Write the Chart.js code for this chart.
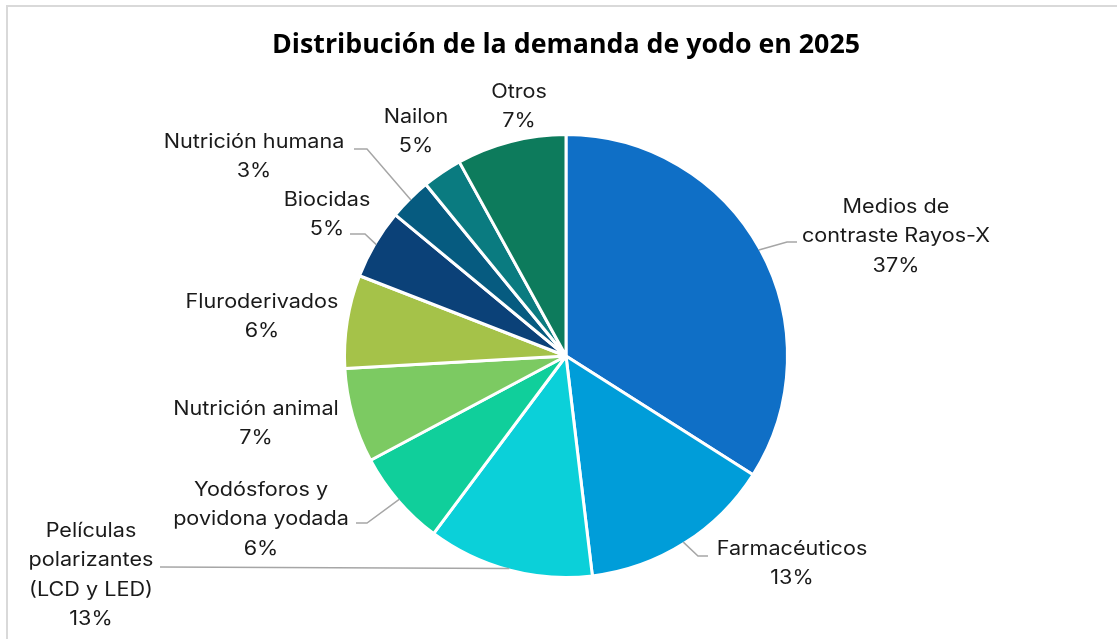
<!DOCTYPE html>
<html><head><meta charset="utf-8">
<script src="https://cdn.jsdelivr.net/npm/chart.js@4.4.1/dist/chart.umd.min.js"></script>
<style>
html,body{margin:0;padding:0;background:#fff;}
#wrap{position:relative;width:1117px;height:639px;overflow:hidden;background:#fff;}
#frame{position:absolute;left:6px;top:5px;width:1300px;height:800px;border:2px solid #d9d9d9;box-sizing:border-box;}
#c{position:absolute;left:0;top:0;}
</style></head><body>
<div id="wrap"><div id="frame"></div><canvas id="c" width="1117" height="639"></canvas></div>
<script>
// ---- data ----
const chartTitle = "Distribución de la demanda de yodo en 2025";
const categories = ["Medios de contraste Rayos-X", "Farmacéuticos", "Películas polarizantes (LCD y LED)", "Yodósforos y povidona yodada", "Nutrición animal", "Fluroderivados", "Biocidas", "Nutrición humana", "Nailon", "Otros"];
const values = [34.0, 14.1, 12.1, 7.0, 6.9, 6.8, 5.1, 3.1, 2.9, 8.0];
const pctLabels = ["37%", "13%", "13%", "6%", "7%", "6%", "5%", "3%", "5%", "7%"];
const labelLines = [["Medios de", "contraste Rayos-X"], ["Farmacéuticos"], ["Películas", "polarizantes", "(LCD y LED)"], ["Yodósforos y", "povidona yodada"], ["Nutrición animal"], ["Fluroderivados"], ["Biocidas"], ["Nutrición humana"], ["Nailon"], ["Otros"]];

// ---- styles / layout ----
const colors = ["#0F6FC6", "#009DD9", "#0BD0D9", "#10CF9B", "#7CCA62", "#A5C249", "#0B4178", "#065B80", "#0A7B80", "#0D7B5C"];
// label block: center x, first line y
const labelPos = [[896, 207], [792, 549], [91, 531], [261, 490], [256, 409], [262, 302], [327, 200], [254, 142], [416, 117], [519, 92]];
// leader lines: points from the text side, then to the slice edge (null = none)
const leaders = [[[797, 242], [787, 242]], [[708, 556], [698, 556]], [[160, 567]], [[356, 523], [367, 523]], null, null, [[350, 234], [365, 234]], [[354, 149], [367, 149]], null, null];

const labelPlugin = {
  id: 'labels',
  afterDraw(chart) {
    const ctx = chart.ctx;
    const meta = chart.getDatasetMeta(0);
    ctx.save();
    // title (bold, fitted to the reference width)
    const ts = 26;
    ctx.font = `bold ${ts}px "Open Sans"`;
    const sx = 588 / ctx.measureText(chartTitle).width;
    ctx.fillStyle = "#000";
    ctx.textAlign = "center";
    ctx.textBaseline = "middle";
    ctx.save();
    ctx.translate(566, 46);
    ctx.scale(sx, 1);
    ctx.fillText(chartTitle, 0, 0);
    ctx.restore();

    // leader lines
    ctx.strokeStyle = "#a6a6a6";
    ctx.lineWidth = 1.5;
    leaders.forEach((pts, i) => {
      if (!pts) return;
      const arc = meta.data[i];
      const mid = (arc.startAngle + arc.endAngle) / 2;
      const r = arc.outerRadius - 1.5;
      ctx.beginPath();
      ctx.moveTo(pts[0][0], pts[0][1]);
      for (let k = 1; k < pts.length; k++) ctx.lineTo(pts[k][0], pts[k][1]);
      ctx.lineTo(arc.x + Math.cos(mid) * r, arc.y + Math.sin(mid) * r);
      ctx.stroke();
    });

    // labels
    let fs = 19.5;
    ctx.font = `${fs}px Inter`;
    const lsx = 188 / ctx.measureText("contraste Rayos-X").width;
    ctx.fillStyle = "#1a1a1a";
    const lh = 29.5;
    labelLines.forEach((lines, i) => {
      const all = lines.concat([pctLabels[i]]);
      const [cx, y0] = labelPos[i];
      all.forEach((t, k) => {
        ctx.save();
        ctx.translate(cx, y0 + k * lh);
        ctx.scale(lsx, 1);
        ctx.fillText(t, 0, 0);
        ctx.restore();
      });
    });
    ctx.restore();
  }
};

new Chart(document.getElementById('c'), {
  type: 'pie',
  data: {
    labels: categories,
    datasets: [{
      data: values,
      backgroundColor: colors,
      borderColor: "#ffffff",
      borderWidth: 3,
      hoverOffset: 0
    }]
  },
  options: {
    responsive: false,
    animation: false,
    layout: { padding: { top: 133, bottom: 60, left: 300, right: 285 } },
    plugins: {
      legend: { display: false },
      tooltip: { enabled: false },
      title: { display: false }
    }
  },
  plugins: [labelPlugin]
});
</script>
</body></html>
